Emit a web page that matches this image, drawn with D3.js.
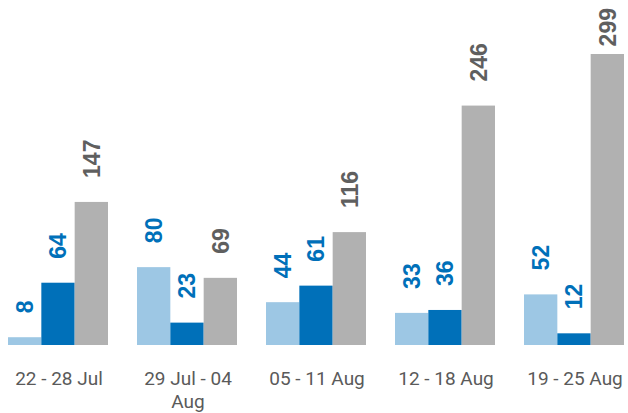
<!DOCTYPE html>
<html>
<head>
<meta charset="utf-8">
<script src="https://cdn.jsdelivr.net/npm/d3@7"></script>
<style>
	body { margin: 0; background: #fff; }
	svg { display: block; }
</style>
</head>
<body>
<div id="container"></div>
<script>
var weeks = ["22 - 28 Jul", "29 Jul - 04 Aug", "05 - 11 Aug", "12 - 18 Aug", "19 - 25 Aug"];
var seriesA = [8, 80, 44, 33, 52];
var seriesB = [64, 23, 61, 36, 12];
var seriesC = [147, 69, 116, 246, 299];

var w = 628, h = 413;
var barColors = ["#9dc7e4", "#0070b9", "#b1b1b1"];
var labelColors = ["#0070b9", "#0070b9", "#5f5f5f"];

var svg = d3.select("#container")
	.append("svg")
	.attr("width", w)
	.attr("height", h);

var x0 = d3.scaleBand()
	.domain(weeks)
	.range([-6.5, 638.5])
	.paddingInner(0.225)
	.paddingOuter(0.1125);

var x1 = d3.scaleBand()
	.domain([0, 1, 2])
	.range([0, x0.bandwidth()]);

var y = d3.scaleLinear()
	.domain([0, 299])
	.range([345, 54]);

var rows = weeks.map(function(wk, i){
	return {week: wk, vals: [seriesA[i], seriesB[i], seriesC[i]]};
});

var groups = svg.selectAll("g.group")
	.data(rows)
	.enter()
	.append("g")
	.attr("class", "group")
	.attr("transform", function(d){ return "translate(" + x0(d.week) + ",0)"; });

groups.selectAll("rect")
	.data(function(d){ return d.vals; })
	.enter()
	.append("rect")
	.attr("x", function(d, i){ return x1(i); })
	.attr("y", function(d){ return y(d); })
	.attr("width", x1.bandwidth())
	.attr("height", function(d){ return y(0) - y(d); })
	.attr("fill", function(d, i){ return barColors[i]; });

groups.selectAll("text.val")
	.data(function(d){ return d.vals; })
	.enter()
	.append("text")
	.attr("class", "val")
	.attr("dy", "0.36em")
	.attr("text-anchor", "start")
	.attr("font-family", "'Liberation Sans', Arial, sans-serif")
	.attr("font-weight", "bold")
	.attr("font-size", "23px")
	.attr("fill", function(d, i){ return labelColors[i]; })
	.text(function(d){ return d; })
	.attr("transform", function(d, i){
		// keep label inside the top edge
		var len = this.getComputedTextLength();
		var ty = Math.max(y(d) - 24, len + 8);
		return "translate(" + (x1(i) + x1.bandwidth() / 2) + "," + ty + ") rotate(-90)";
	});

//x axis labels, no line or ticks
var xAxis = d3.axisBottom(x0).tickSize(0).tickPadding(0);
var axisG = svg.append("g")
	.attr("transform", "translate(1,345)")
	.call(xAxis);
axisG.select(".domain").remove();
axisG.selectAll("text")
	.attr("font-family", "Roboto, 'Liberation Sans', sans-serif")
	.attr("font-size", "19px")
	.attr("fill", "#5a5a5a")
	.attr("y", 40)
	.attr("dy", 0)
	.call(wrap, x0.bandwidth());

function wrap(texts, width){
	texts.each(function(){
		var text = d3.select(this);
		var words = text.text().split(/\s+/);
		var yy = text.attr("y");
		var line = [];
		var lineNo = 0;
		var tspan = text.text(null).append("tspan").attr("x", 0).attr("y", yy);
		words.forEach(function(word){
			line.push(word);
			tspan.text(line.join(" "));
			if (tspan.node().getComputedTextLength() > width && line.length > 1) {
				line.pop();
				tspan.text(line.join(" "));
				line = [word];
				lineNo++;
				tspan = text.append("tspan").attr("x", 0).attr("y", +yy + lineNo * 23).text(word);
			}
		});
	});
}
</script>
</body>
</html>
